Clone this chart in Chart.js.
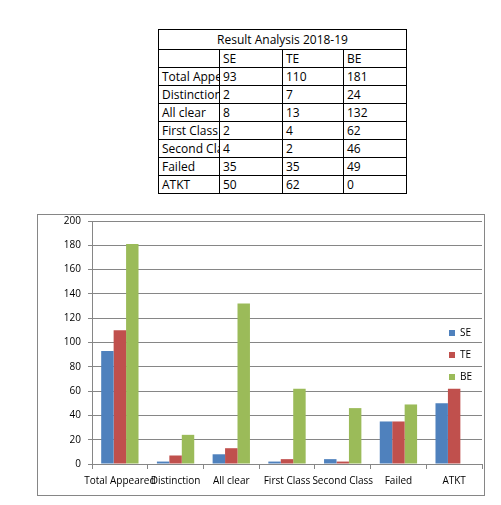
<!DOCTYPE html>
<html><head><meta charset="utf-8">
<script src="https://cdn.jsdelivr.net/npm/chart.js@4.4.1/dist/chart.umd.min.js"></script>
<style>
html,body{margin:0;padding:0;background:#fff;}
body{width:501px;height:505px;position:relative;overflow:hidden;font-family:"Open Sans",sans-serif;}
#tbl{position:absolute;left:158px;top:29px;display:grid;grid-template-columns:60px 62px 60px 62px;grid-template-rows:19px repeat(8,17px);gap:1px;padding:1px;background:#000;}
#tbl div{background:#fff;font-size:12px;line-height:17px;padding-left:3px;white-space:nowrap;overflow:hidden;color:#000;}
#tbl div.title{grid-column:1/5;line-height:19px;text-align:center;padding-left:0;}
#box{position:absolute;left:37px;top:214px;width:446px;height:280px;border:1px solid #868686;}
canvas{display:block;}
</style></head>
<body>
<div id="tbl"></div>
<div id="box"><canvas id="c" width="446" height="280"></canvas></div>
<script>
const tableTitle = "Result Analysis 2018-19";
const categories = ["Total Appeared","Distinction","All clear","First Class","Second Class","Failed","ATKT"];
const seriesNames = ["SE","TE","BE"];
const seValues = [93,2,8,2,4,35,50];
const teValues = [110,7,13,4,2,35,62];
const beValues = [181,24,132,62,46,49,0];
const yMin = 0, yMax = 200, yStep = 20;

const seriesValues = [seValues, teValues, beValues];
const colors = ['#4F81BD','#C0504D','#9BBB59'];
const gray = '#868686';
const FONT = '"Open Sans", sans-serif';

// table
const tbl = document.getElementById('tbl');
function cell(txt, cls){ const d=document.createElement('div'); d.textContent=txt; if(cls) d.className=cls; tbl.appendChild(d); }
cell(tableTitle,'title');
cell(''); seriesNames.forEach(s=>cell(s));
categories.forEach((c,i)=>{ cell(c); seriesValues.forEach(v=>cell(String(v[i]))); });

Chart.defaults.font.family = FONT;

const legendPlacer = {
  id:'legendPlacer',
  afterLayout(chart){
    const lg = chart.legend; if(!lg) return;
    lg.left = 399; lg.right = chart.width;
    lg.top = 101; lg.bottom = 179;
    lg.width = lg.right - lg.left; lg.height = lg.bottom - lg.top;
  }
};

new Chart(document.getElementById('c'), {
  type:'bar',
  data:{
    labels:categories,
    datasets: seriesNames.map((n,i)=>({label:n, data:seriesValues[i], backgroundColor:colors[i], borderWidth:0}))
  },
  options:{
    responsive:false, animation:false,
    layout:{padding:{top:6,right:2,left:0,bottom:0}},
    datasets:{bar:{categoryPercentage:0.67, barPercentage:1}},
    plugins:{
      legend:{position:'chartArea', labels:{boxWidth:6, boxHeight:6, padding:12, color:'#000', font:{family:FONT,size:10}}},
      tooltip:{enabled:false}
    },
    scales:{
      x:{
        grid:{offset:true, drawOnChartArea:false, drawTicks:true, tickLength:5, color:gray},
        border:{color:gray},
        ticks:{autoSkip:false, maxRotation:0, minRotation:0, color:'#000', font:{family:FONT,size:10}, padding:6},
        afterFit(s){ s.height = 31; }
      },
      y:{
        min:yMin, max:yMax,
        ticks:{stepSize:yStep, color:'#000', font:{family:FONT,size:10}, padding:7},
        grid:{color:gray, tickLength:4},
        border:{color:gray},
        afterFit(s){ s.width = 54; s.paddingTop = 0; s.paddingBottom = 0; }
      }
    }
  },
  plugins:[legendPlacer]
});
</script>
</body></html>
